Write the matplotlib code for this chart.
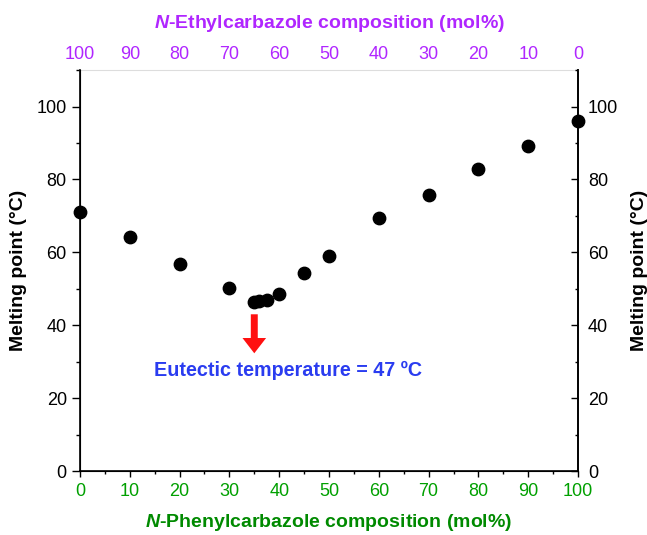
import matplotlib
matplotlib.use('Agg')
import matplotlib.pyplot as plt
from matplotlib.ticker import MultipleLocator

# N-Phenylcarbazole composition (mol%) and melting point (°C)
phenyl_mol = [0, 10, 20, 30, 35, 36, 37.5, 40, 45, 50, 60, 70, 80, 90, 100]
melting_pt = [71.2, 64.3, 56.9, 50.3, 46.3, 46.7, 46.9, 48.7, 54.3, 59.0, 69.3, 75.7, 82.8, 89.2, 96.0]
eutectic_x = 35
eutectic_label = 'Eutectic temperature = 47 ºC'

plt.rcParams['font.family'] = ['Liberation Sans', 'DejaVu Sans']
plt.rcParams['mathtext.fontset'] = 'custom'
plt.rcParams['mathtext.bf'] = 'Liberation Sans:bold:italic'

GREEN_T = '#00a000'
GREEN_L = '#008a00'
PURPLE = '#b026ff'
BLUE = '#2a3cf0'

fig = plt.figure(figsize=(6.47, 5.35), dpi=100)
ax = fig.add_axes([0.1236, 0.1196, 0.7698, 0.7494])

ax.scatter(phenyl_mol, melting_pt, s=80, color='black', zorder=3, clip_on=False)

ax.set_xlim(0, 100)
ax.set_ylim(0, 110)
ax.xaxis.set_major_locator(MultipleLocator(10))
ax.xaxis.set_minor_locator(MultipleLocator(5))
ax.yaxis.set_major_locator(MultipleLocator(20))
ax.yaxis.set_minor_locator(MultipleLocator(10))

ax.tick_params(axis='x', which='both', direction='out', colors='black', labelcolor=GREEN_T, labelsize=13, pad=4)
ax.tick_params(axis='x', which='major', length=4.5, width=1)
ax.tick_params(axis='x', which='minor', length=2.5, width=1)
ax.tick_params(axis='y', which='both', direction='out', labelsize=13, left=True, right=False, pad=3.5)
ax.tick_params(axis='y', which='major', length=6, width=1)
ax.tick_params(axis='y', which='minor', length=3, width=1)

ax.spines['top'].set_color('#dddddd')
for s in ['left', 'right', 'bottom']:
    ax.spines[s].set_linewidth(1.2)

ax.set_xlabel(r'$\mathbf{N}$-Phenylcarbazole composition (mol%)', color=GREEN_L,
              fontsize=14, fontweight='bold', labelpad=9)
ax.set_ylabel('Melting point (°C)', fontsize=14, fontweight='bold', labelpad=7)

# right axis
axr = ax.twinx()
axr.set_ylim(0, 110)
axr.yaxis.set_major_locator(MultipleLocator(20))
axr.yaxis.set_minor_locator(MultipleLocator(10))
axr.tick_params(axis='y', which='both', direction='in', labelsize=13, pad=7)
axr.tick_params(axis='y', which='major', length=5, width=1)
axr.tick_params(axis='y', which='minor', length=2.5, width=1)
axr.set_ylabel('Melting point (°C)', fontsize=14, fontweight='bold', labelpad=9)
axr.spines['top'].set_visible(False)
axr.spines['right'].set_linewidth(1.2)

# top axis (reversed composition)
axt = ax.twiny()
axt.set_xlim(100, 0)
axt.xaxis.set_major_locator(MultipleLocator(10))
axt.tick_params(axis='x', which='both', length=0, labelcolor=PURPLE, labelsize=13, pad=5)
axt.set_xlabel(r'$\mathbf{N}$-Ethylcarbazole composition (mol%)', color=PURPLE,
               fontsize=14, fontweight='bold', labelpad=13)
for s in axt.spines.values():
    s.set_visible(False)

ax.annotate('', xy=(eutectic_x, 32.3), xytext=(eutectic_x, 43),
            arrowprops=dict(facecolor='#ff1010', edgecolor='none', width=5, headwidth=17, headlength=11))
ax.text(41.8, 27.7, eutectic_label, color=BLUE, fontsize=14.2, fontweight='bold',
        ha='center', va='center')

fig.savefig('out.png', dpi=100)
